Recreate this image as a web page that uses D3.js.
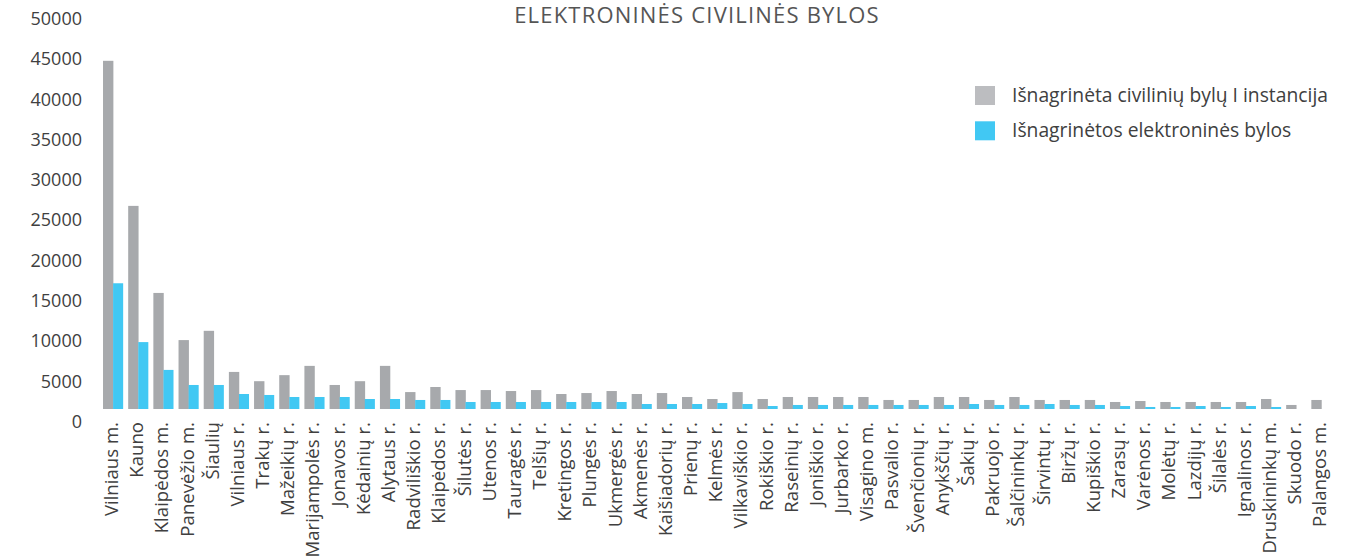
<!DOCTYPE html>
<html>
<head>
<meta charset="utf-8">
<script src="https://cdn.jsdelivr.net/npm/d3@7"></script>
<style>
  body { margin: 0; background: #fff; }
  svg { display: block; font-family: "Open Sans", sans-serif; }
</style>
</head>
<body>
<div id="chart"></div>
<script>
// courts (x categories)
var courts = [
  "Vilniaus m.", "Kauno", "Klaipėdos m.", "Panevėžio m.", "Šiaulių", "Vilniaus r.",
  "Trakų r.", "Mažeikių r.", "Marijampolės r.", "Jonavos r.", "Kėdainių r.", "Alytaus  r.",
  "Radviliškio r.", "Klaipėdos r.", "Šilutės r.", "Utenos r.", "Tauragės r.", "Telšių r.",
  "Kretingos r.", "Plungės r.", "Ukmergės r.", "Akmenės r.", "Kaišiadorių r.", "Prienų r.",
  "Kelmės r.", "Vilkaviškio r.", "Rokiškio r.", "Raseinių r.", "Joniškio r.", "Jurbarko r.",
  "Visagino m.", "Pasvalio r.", "Švenčionių r.", "Anykščių r.", "Šakių r.", "Pakruojo r.",
  "Šalčininkų r.", "Širvintų r.", "Biržų r.", "Kupiškio r.", "Zarasų r.", "Varėnos r.",
  "Molėtų r.", "Lazdijų r.", "Šilalės r.", "Ignalinos r.", "Druskininkų m.", "Skuodo  r.",
  "Palangos m."
];

// Išnagrinėta civilinių bylų I instancija
var civilCases = [
  43200, 25200, 14400, 8550, 9700, 4600, 3450, 4200, 5350, 2980, 3450, 5350,
  2100, 2730, 2350, 2350, 2230, 2350, 1860, 1980, 2230, 1860, 1980, 1490,
  1240, 2100, 1240, 1490, 1490, 1490, 1490, 1120, 1120, 1490, 1490, 1120,
  1490, 1120, 1120, 1120, 870, 990, 870, 870, 870, 870, 1240, 500,
  1120
];

// Išnagrinėtos elektroninės bylos
var eCases = [
  15600, 8300, 4850, 2980, 2980, 1860, 1740, 1490, 1490, 1490, 1240, 1240,
  1120, 1120, 870, 870, 870, 870, 870, 870, 870, 620, 620, 620,
  740, 620, 370, 500, 500, 500, 500, 500, 500, 500, 620, 500,
  500, 620, 500, 500, 370, 250, 250, 370, 250, 370, 250, 0,
  0
];

var yTicks = [0, 5000, 10000, 15000, 20000, 25000, 30000, 35000, 40000, 45000, 50000];

var seriesNames = ["Išnagrinėta civilinių bylų I instancija", "Išnagrinėtos elektroninės bylos"];
var title = "ELEKTRONINĖS CIVILINĖS BYLOS";

var W = 1356, H = 557;
var baseY = 409;
var textColor = "#404040";
var grey = "#A7A9AC", blue = "#41C8F3";

var svg = d3.select("#chart").append("svg")
  .attr("width", W)
  .attr("height", H);

var x = d3.scaleBand()
  .domain(courts)
  .range([100.5, 1334])
  .paddingInner(0.2)
  .paddingOuter(0.1);

var xSub = d3.scaleBand()
  .domain([0, 1])
  .range([0, x.bandwidth()]);

var y = d3.scaleLinear()
  .domain([0, 50000])
  .range([baseY, baseY - 403]);

// title
svg.append("text")
  .attr("x", 697)
  .attr("y", 22.5)
  .attr("text-anchor", "middle")
  .attr("font-size", 22)
  .attr("letter-spacing", 1.2)
  .attr("fill", "#555")
  .text(title);

// y axis (labels only, sits a bit below the bar baseline like the original)
var yAxis = svg.append("g")
  .attr("transform", "translate(82," + 12.7 + ")")
  .call(d3.axisLeft(y).tickValues(yTicks).tickSize(0).tickPadding(0).tickFormat(d3.format("d")));
yAxis.select(".domain").remove();
yAxis.selectAll("text")
  .attr("font-size", 18)
  .attr("font-family", "Open Sans, sans-serif")
  .attr("fill", textColor);

// bars
var groups = svg.append("g").selectAll("g")
  .data(courts)
  .join("g")
  .attr("transform", d => "translate(" + x(d) + ",0)");

groups.append("rect")
  .attr("x", xSub(0))
  .attr("width", xSub.bandwidth() + 0.3)
  .attr("y", (d, i) => y(civilCases[i]))
  .attr("height", (d, i) => baseY - y(civilCases[i]))
  .attr("fill", grey);

groups.append("rect")
  .attr("x", xSub(1))
  .attr("width", xSub.bandwidth())
  .attr("y", (d, i) => y(eCases[i]))
  .attr("height", (d, i) => baseY - y(eCases[i]))
  .attr("fill", blue);

// x axis
var xAxis = svg.append("g")
  .attr("transform", "translate(0," + baseY + ")")
  .call(d3.axisBottom(x).tickSize(0));
xAxis.select(".domain").remove();
xAxis.selectAll("text")
  .attr("font-size", 18.6)
  .attr("font-family", "Open Sans, sans-serif")
  .attr("fill", textColor)
  .attr("text-anchor", "end")
  .attr("transform", "rotate(-90)")
  .attr("x", -13)
  .attr("y", 5)
  .attr("dy", 0);

// legend
var legend = svg.append("g")
  .attr("transform", "translate(975,86)");
var legendColors = ["#BCBDC0", blue];
var items = legend.selectAll("g")
  .data(seriesNames)
  .join("g")
  .attr("transform", (d, i) => "translate(0," + (i * 35.3) + ")");
items.append("rect")
  .attr("width", 20)
  .attr("height", 19)
  .attr("fill", (d, i) => legendColors[i]);
items.append("text")
  .attr("x", 37)
  .attr("y", 9)
  .attr("dy", "0.35em")
  .attr("font-size", 19.3)
  .attr("fill", textColor)
  .text(d => d);
</script>
</body>
</html>
